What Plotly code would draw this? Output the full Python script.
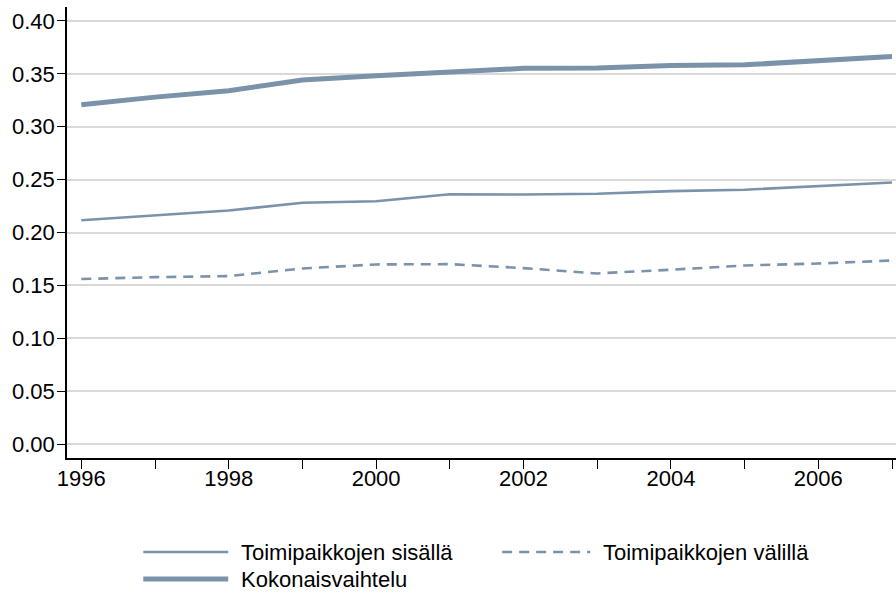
import plotly.graph_objects as go

years = [1996, 1997, 1998, 1999, 2000, 2001, 2002, 2003, 2004, 2005, 2006, 2007]
sisalla = [0.2116, 0.2164, 0.2208, 0.2281, 0.2296, 0.2362, 0.2359, 0.2366, 0.2391, 0.2404, 0.2438, 0.2473]
valilla = [0.1560, 0.1578, 0.1588, 0.1660, 0.1698, 0.1701, 0.1663, 0.1613, 0.1648, 0.1688, 0.1707, 0.1735]
kokonais = [0.3208, 0.3280, 0.3340, 0.3442, 0.3482, 0.3515, 0.3552, 0.3555, 0.3578, 0.3585, 0.3625, 0.3664]
names = ["Toimipaikkojen sisällä", "Toimipaikkojen välillä", "Kokonaisvaihtelu"]
ytick_vals = [0.0, 0.05, 0.10, 0.15, 0.20, 0.25, 0.30, 0.35, 0.40]
ytick_text = ["0.00", "0.05", "0.10", "0.15", "0.20", "0.25", "0.30", "0.35", "0.40"]
xtick_text = [str(y) if y % 2 == 0 else "" for y in years]

col = "#7a92aa"
font = "Liberation Sans, Arial, sans-serif"

fig = go.Figure()
fig.add_trace(go.Scatter(x=years, y=sisalla, mode="lines", name=names[0],
                         line=dict(color=col, width=2.6), showlegend=False))
fig.add_trace(go.Scatter(x=years, y=valilla, mode="lines", name=names[1],
                         line=dict(color=col, width=2.6, dash="10px,7px"), showlegend=False))
fig.add_trace(go.Scatter(x=years, y=kokonais, mode="lines", name=names[2],
                         line=dict(color=col, width=5), showlegend=False))

# custom legend
W, H = 896, 595
L, R, T, B = 66.7, 0, 7, 137
pw, ph = W - L - R, H - T - B
def px(x): return (x - L) / pw
def py(y): return (H - B - y) / ph

legend_items = [
    (143, 228, 552, 239, names[0], dict(color=col, width=2.6)),
    (502, 590, 552, 601, names[1], dict(color=col, width=2.6, dash="10px,7px")),
    (143, 228, 579, 239, names[2], dict(color=col, width=5)),
]
for x0, x1, yy, tx, txt, ln in legend_items:
    fig.add_shape(type="line", xref="paper", yref="paper",
                  x0=px(x0), x1=px(x1), y0=py(yy), y1=py(yy), line=ln)
    fig.add_annotation(xref="paper", yref="paper", x=px(tx), y=py(yy), text=txt,
                       showarrow=False, xanchor="left", yanchor="middle",
                       font=dict(family=font, size=22, color="#000"))

fig.update_layout(
    width=W, height=H,
    margin=dict(l=L, r=R, t=T, b=B),
    plot_bgcolor="white", paper_bgcolor="white",
    font=dict(family=font, size=22, color="#000"),
    showlegend=False,
)
fig.update_xaxes(range=[1995.806, 2007.054], tickvals=years, ticktext=xtick_text,
                 ticks="outside", ticklen=9, tickwidth=1.3, tickcolor="#000",
                 showline=True, linecolor="#000", linewidth=1.5,
                 showgrid=False, zeroline=False, tickfont=dict(size=22),
                 ticklabelstandoff=-9)
fig.update_yaxes(range=[-0.0132, 0.4132], tickvals=ytick_vals, ticktext=ytick_text,
                 ticks="outside", ticklen=8, tickwidth=1.3, tickcolor="#000",
                 showline=True, linecolor="#000", linewidth=1.5,
                 showgrid=True, gridcolor="#d9d9d9", gridwidth=1.5,
                 zeroline=False, tickfont=dict(size=22), ticklabelstandoff=-2)

fig.write_html("out.html", config={"displayModeBar": False},
               post_script="document.body.style.margin='0';")
